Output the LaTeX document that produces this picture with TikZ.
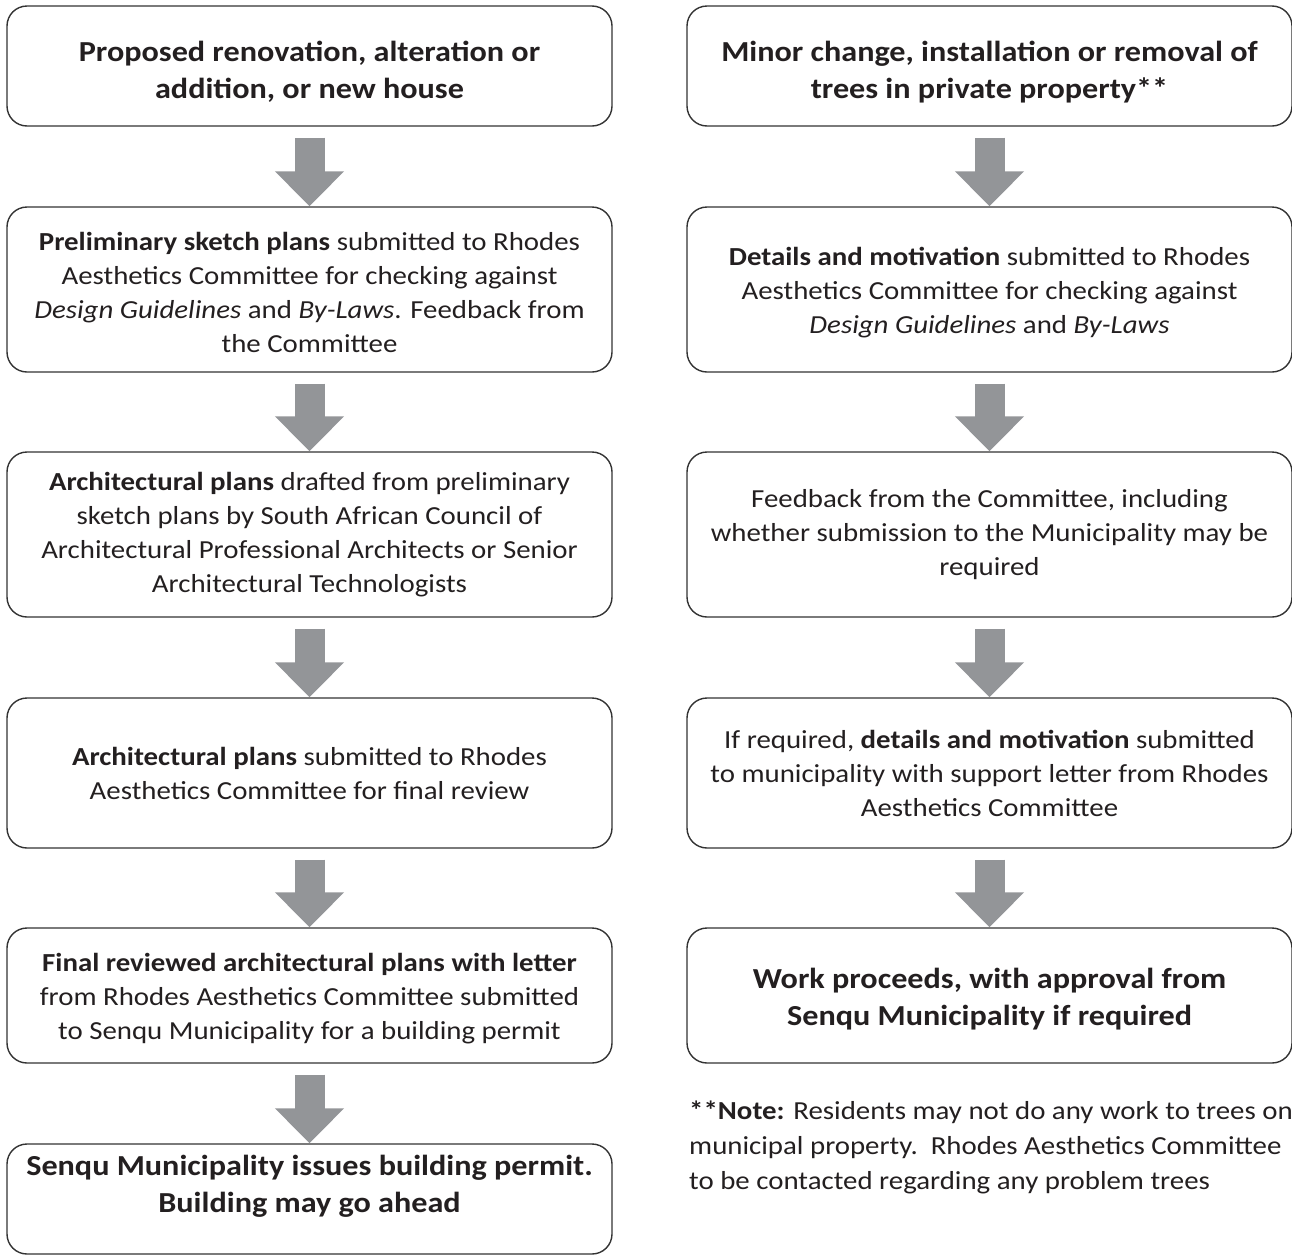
\documentclass[tikz,border=0pt]{standalone}
\usepackage{fontspec}
\setmainfont[FakeStretch=1.11]{Carlito}
\usetikzlibrary{arrows.meta}
\definecolor{arrowgray}{HTML}{939598}
\definecolor{boxline}{HTML}{333333}
\definecolor{inktext}{HTML}{231F20}
\begin{document}
\begin{tikzpicture}[x=1pt, y=-1pt,
        stepbox/.style={rectangle, rounded corners=20pt, draw=boxline, line width=1.4pt, minimum width=605pt, align=center, inner sep=0pt, text=inktext, font=\fontsize{26}{34}\selectfont},
        headbox/.style={stepbox, font=\fontsize{29}{37}\selectfont\bfseries},
        flow/.style={draw=arrowgray, line width=30pt, -{Triangle[width=67pt, length=35pt, fill=arrowgray]}}
    ]
        \useasboundingbox (0,0) rectangle (1292,1256);

        % left column
        \node[headbox, minimum height=120pt] (l1) at (309.5,66) {\rule{0pt}{32pt}Proposed renovation, alteration or\\addition, or new house};
        \node[stepbox, minimum height=165pt] (l2) at (309.5,289.5) {\rule{0pt}{24pt}\textbf{Preliminary sketch plans} submitted to Rhodes\\Aesthetics Committee for checking against\\\textit{Design Guidelines} and \textit{By-Laws}. Feedback from\\the Committee};
        \node[stepbox, minimum height=165pt] (l3) at (309.5,534.5) {\textbf{Architectural plans} drafted from preliminary\\sketch plans by South African Council of\\Architectural Professional Architects or Senior\\Architectural Technologists};
        \node[stepbox, minimum height=150pt] (l4) at (309.5,773) {\textbf{Architectural plans} submitted to Rhodes\\Aesthetics Committee for final review};
        \node[stepbox, minimum height=135pt] (l5) at (309.5,995.5) {\rule{0pt}{24pt}\textbf{Final reviewed architectural plans with letter}\\from Rhodes Aesthetics Committee submitted\\to Senqu Municipality for a building permit};
        \node[headbox, minimum height=110pt] (l6) at (309.5,1199) {Senqu Municipality issues building permit.\\Building may go ahead\rule[-30pt]{0pt}{0pt}};

        % right column
        \node[headbox, minimum height=120pt] (r1) at (989.5,66) {\rule{0pt}{32pt}Minor change, installation or removal of\\trees in private property**};
        \node[stepbox, minimum height=165pt] (r2) at (989.5,289.5) {\rule{0pt}{24pt}\textbf{Details and motivation} submitted to Rhodes\\Aesthetics Committee for checking against\\\textit{Design Guidelines} and \textit{By-Laws}};
        \node[stepbox, minimum height=165pt] (r3) at (989.5,534.5) {Feedback from the Committee, including\\whether submission to the Municipality may be\\required};
        \node[stepbox, minimum height=150pt] (r4) at (989.5,773) {If required, \textbf{details and motivation} submitted\\to municipality with support letter from Rhodes\\Aesthetics Committee};
        \node[headbox, minimum height=135pt] (r5) at (989.5,995.5) {\rule{0pt}{28pt}Work proceeds, with approval from\\Senqu Municipality if required};

        \node[anchor=north west, align=left, inner sep=0pt, text=inktext, font=\fontsize{26}{35}\selectfont] (note) at (689,1101) {\textbf{**Note:} Residents may not do any work to trees on\\municipal property.\ \ Rhodes Aesthetics Committee\\to be contacted regarding any problem trees};

        \foreach \a/\b in {l1/l2, l2/l3, l3/l4, l4/l5, l5/l6, r1/r2, r2/r3, r3/r4, r4/r5}
            \draw[flow] ([yshift=-11pt]\a.south) -- (\b.north);
    \end{tikzpicture}
\end{document}
